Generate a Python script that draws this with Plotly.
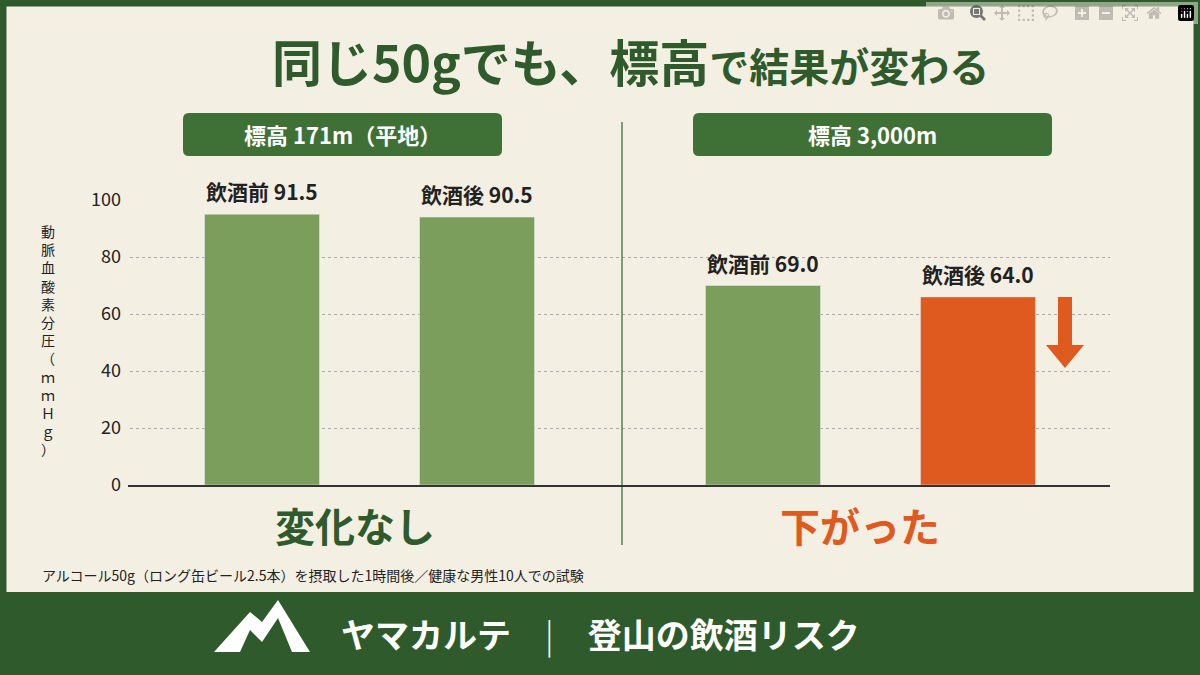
import plotly.graph_objects as go

labels = ["飲酒前 91.5", "飲酒後 90.5", "飲酒前 69.0", "飲酒後 64.0"]
heights = [95, 94, 70, 66]
xpos = [0, 1, 2.33, 3.33]
colors = ["#7b9e5c", "#7b9e5c", "#7b9e5c", "#df5a1f"]
yticks = [0, 20, 40, 60, 80, 100]

W, H = 1200, 675
L, R, T, B = 130, 90, 200, 190
def px(x): return (x - L) / (W - L - R)
def py(y): return (H - B - y) / (H - T - B)

F = "Noto Sans CJK JP"
DG = "#2f5b2c"
fig = go.Figure(go.Bar(x=xpos, y=heights, width=0.535, marker_color=colors, hoverinfo="skip"))

def pa(x, y, text, size, color, xanchor="center", **kw):
    return dict(x=px(x), y=py(y), xref="paper", yref="paper", showarrow=False, text=text,
                xanchor=xanchor, yanchor="middle", font=dict(family=F, size=size, color=color), **kw)

ann = []
for x, h, t in zip(xpos, heights, labels):
    ann.append(dict(x=x, y=h, text=f"<b>{t}</b>", showarrow=False, yanchor="bottom", yshift=6,
                    font=dict(family=F, size=21, color="#222")))
ann += [
    pa(630, 60, "<b><span style='font-size:50px'>同じ50gでも、標高</span><span style='font-size:40px'>で結果が変わる</span></b>", 40, DG),
    pa(342, 134, "<b>標高 171m（平地）</b>", 22, "white"),
    pa(872, 134, "<b>標高 3,000m</b>", 22, "white"),
    pa(355, 525, "<b>変化なし</b>", 40, DG),
    pa(860, 525, "<b>下がった</b>", 40, "#df5a1f"),
    pa(40, 575, "アルコール50g（ロング缶ビール2.5本）を摂取した1時間後／健康な男性10人での試験", 14, "#222", xanchor="left"),
    pa(600, 633, "<b>ヤマカルテ　<span style='font-weight:300'>|</span>　登山の飲酒リスク</b>", 34, "white"),
    pa(48, 340, "<br>".join("動脈血酸素分圧（ｍｍＨｇ）"), 14, "#222"),
]

def rrect(x0, y0, x1, y1, r, color):
    p = (f"M {px(x0+r)} {py(y0)} L {px(x1-r)} {py(y0)} Q {px(x1)} {py(y0)} {px(x1)} {py(y0+r)} "
         f"L {px(x1)} {py(y1-r)} Q {px(x1)} {py(y1)} {px(x1-r)} {py(y1)} L {px(x0+r)} {py(y1)} "
         f"Q {px(x0)} {py(y1)} {px(x0)} {py(y1-r)} L {px(x0)} {py(y0+r)} Q {px(x0)} {py(y0)} {px(x0+r)} {py(y0)} Z")
    return dict(type="path", xref="paper", yref="paper", path=p, fillcolor=color, line_width=0)

shapes = [
    dict(type="rect", xref="paper", yref="paper", x0=px(0), x1=px(W), y0=py(592), y1=py(H),
         fillcolor=DG, line_width=0, layer="below"),
    dict(type="rect", xref="paper", yref="paper", x0=px(3), x1=px(W-3), y0=py(3), y1=py(H-3),
         line=dict(color=DG, width=7)),
    rrect(183, 113, 502, 156, 6, "#3f7137"),
    rrect(693, 113, 1052, 156, 6, "#3f7137"),
    dict(type="line", xref="paper", yref="paper", x0=px(622), x1=px(622), y0=py(122), y1=py(545),
         line=dict(color="#5b7a55", width=1.5)),
    dict(type="line", xref="paper", yref="paper", x0=px(128), x1=px(1110), y0=py(486), y1=py(486),
         line=dict(color="#333", width=2)),
    dict(type="path", xref="paper", yref="paper",
         path=f"M {px(1058)} {py(297)} L {px(1072)} {py(297)} L {px(1072)} {py(345)} L {px(1084)} {py(345)} "
              f"L {px(1065)} {py(368)} L {px(1046)} {py(345)} L {px(1058)} {py(345)} Z",
         fillcolor="#df5a1f", line_width=0),
    dict(type="path", xref="paper", yref="paper",
         path=f"M {px(214)} {py(652)} L {px(250)} {py(612)} L {px(262)} {py(622)} L {px(278)} {py(600)} "
              f"L {px(310)} {py(652)} Z",
         fillcolor="white", line_width=0),
    dict(type="path", xref="paper", yref="paper",
         path=f"M {px(240)} {py(652)} L {px(250)} {py(630)} L {px(262)} {py(642)} L {px(278)} {py(618)} "
              f"L {px(292)} {py(652)} Z",
         fillcolor=DG, line_width=0),
]

fig.update_layout(
    width=W, height=H, margin=dict(l=L, r=R, t=T, b=B),
    paper_bgcolor="#f4efe3", plot_bgcolor="rgba(0,0,0,0)", showlegend=False,
    annotations=ann, shapes=shapes,
    xaxis=dict(range=[-0.614, 3.944], visible=False),
    yaxis=dict(range=[0, 100], tickvals=yticks, showgrid=True, gridcolor="#aaa", griddash="dot",
               zeroline=False, ticks="", tickfont=dict(family=F, size=18, color="#222"), ticklabelstandoff=8),
    font=dict(family=F),
)
fig.write_html("out.html", post_script="document.body.style.margin='0';document.body.style.overflow='hidden';")
